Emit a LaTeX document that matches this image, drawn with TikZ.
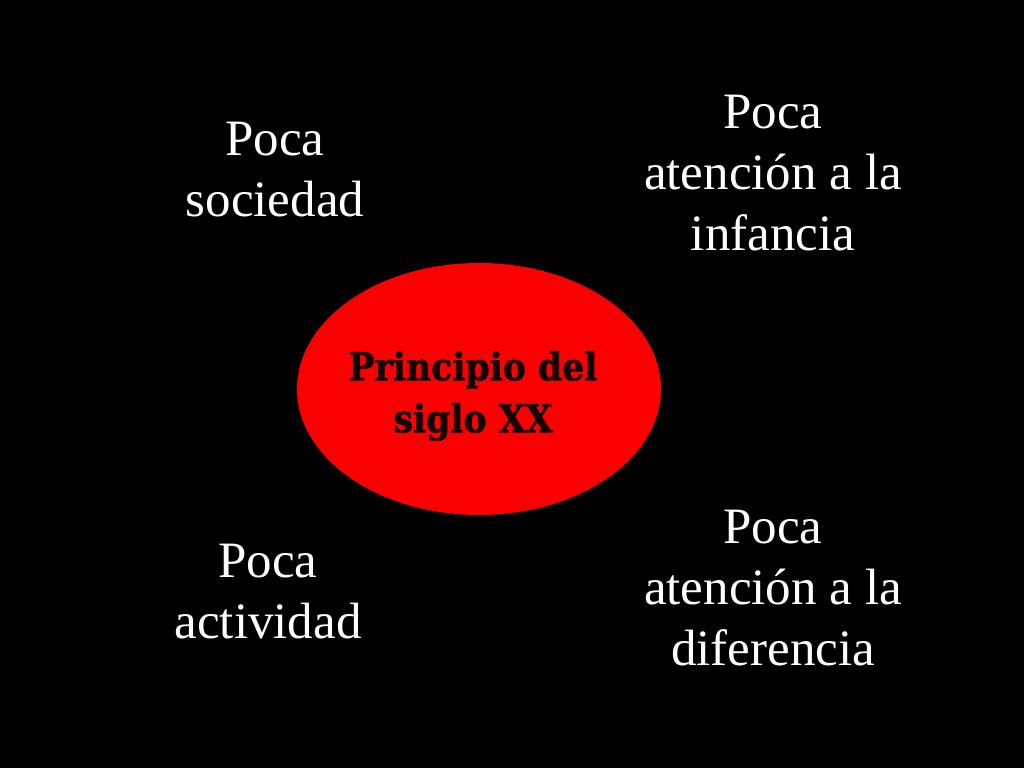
\documentclass[tikz,border=0pt]{standalone}
\usepackage{fontspec}
\setmainfont{Liberation Serif}
\newfontfamily\centerfont[BoldFeatures={FakeBold=1.5}]{DejaVu Serif Condensed}
\usetikzlibrary{shapes.geometric}
\definecolor{ovalred}{RGB}{250,0,0}
\definecolor{darktext}{RGB}{20,0,0}
\tikzset{
  label/.style={text=white, align=center, font=\fontsize{51}{61}\selectfont, inner sep=0pt},
  oval/.style={ellipse, fill=ovalred, minimum width=364pt, minimum height=252pt, inner sep=0pt},
  ovaltext/.style={text=darktext, align=center, font=\centerfont\bfseries\fontsize{38.5}{52}\selectfont, inner sep=0pt}
}
\begin{document}
\begin{tikzpicture}[x=1pt,y=-1pt]
\fill[black] (0,0) rectangle (1024,768);
\useasboundingbox (0,0) rectangle (1024,768);
\node[oval] (c) at (479,389) {};
\node[ovaltext] (ct) at (473,396) {Principio del\\siglo XX};
\node[label] (a) at (275,170) {Poca\\sociedad};
\node[label] (b) at (773,173) {Poca\\atención a la\\infancia};
\node[label] (d) at (268,592) {Poca\\actividad};
\node[label] (e) at (773,588) {Poca\\atención a la\\diferencia};
\end{tikzpicture}
\end{document}
